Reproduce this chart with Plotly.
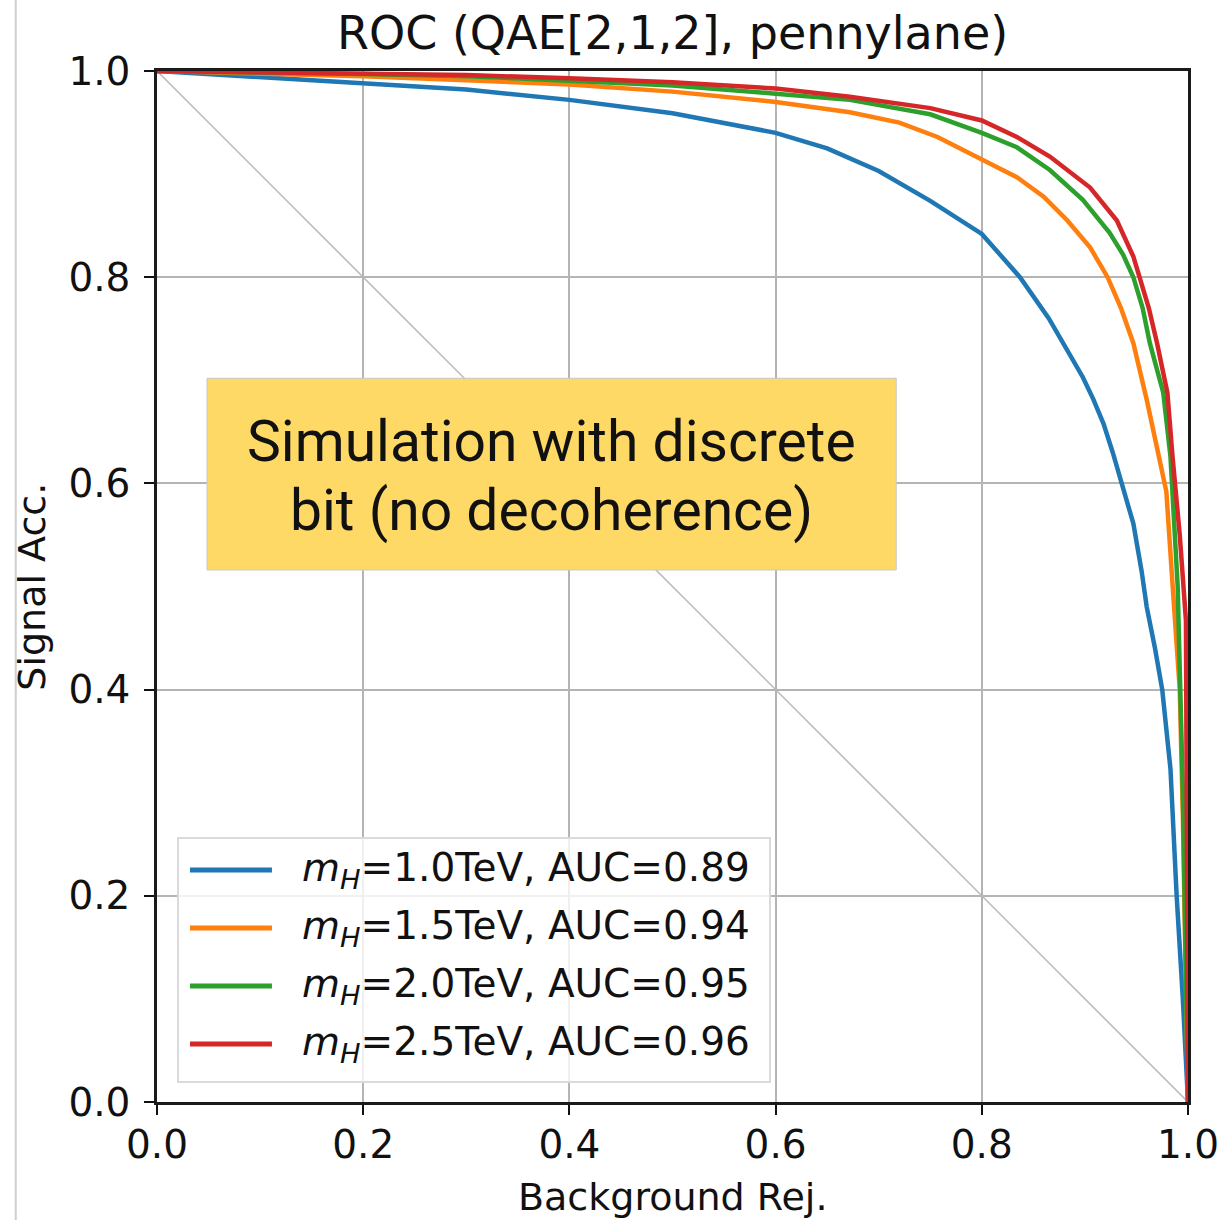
import plotly.graph_objects as go

# ROC curves: background rejection (x) vs signal acceptance (y)
bkg_rej_10 = [0.0, 0.05, 0.1, 0.2, 0.3, 0.4, 0.5, 0.6, 0.65, 0.7, 0.75, 0.8, 0.837, 0.865, 0.879,
              0.898, 0.908, 0.918, 0.927, 0.936, 0.947, 0.955, 0.960, 0.968, 0.975, 0.983, 0.989, 0.995, 1.0]
sig_acc_10 = [1.0, 0.997, 0.995, 0.989, 0.982, 0.972, 0.959, 0.940, 0.925, 0.903, 0.874, 0.842, 0.800, 0.760, 0.736,
              0.703, 0.682, 0.658, 0.630, 0.600, 0.561, 0.515, 0.480, 0.440, 0.400, 0.323, 0.200, 0.100, 0.0]

bkg_rej_15 = [0.0, 0.1, 0.2, 0.3, 0.4, 0.5, 0.6, 0.672, 0.72, 0.757, 0.8, 0.834, 0.860, 0.883, 0.905,
              0.922, 0.935, 0.947, 0.960, 0.970, 0.979, 0.985, 0.992, 0.995, 1.0]
sig_acc_15 = [1.0, 0.998, 0.995, 0.991, 0.987, 0.980, 0.970, 0.960, 0.950, 0.936, 0.914, 0.897, 0.878, 0.855, 0.829,
              0.800, 0.770, 0.736, 0.681, 0.635, 0.592, 0.502, 0.400, 0.278, 0.0]

bkg_rej_20 = [0.0, 0.1, 0.2, 0.3, 0.4, 0.5, 0.6, 0.672, 0.75, 0.8, 0.834, 0.866, 0.898, 0.924,
              0.937, 0.947, 0.956, 0.963, 0.976, 0.983, 0.990, 0.995, 1.0]
sig_acc_20 = [1.0, 0.999, 0.997, 0.995, 0.991, 0.986, 0.978, 0.972, 0.958, 0.940, 0.926, 0.904, 0.875, 0.843,
              0.822, 0.800, 0.770, 0.736, 0.688, 0.626, 0.500, 0.300, 0.0]

bkg_rej_25 = [0.0, 0.1, 0.2, 0.3, 0.4, 0.5, 0.6, 0.672, 0.75, 0.8, 0.834, 0.866, 0.905, 0.931,
              0.947, 0.953, 0.962, 0.970, 0.980, 0.985, 0.992, 0.998, 0.999, 1.0]
sig_acc_25 = [1.0, 0.999, 0.998, 0.996, 0.993, 0.989, 0.983, 0.975, 0.964, 0.952, 0.936, 0.917, 0.887, 0.855,
              0.820, 0.800, 0.770, 0.736, 0.688, 0.626, 0.550, 0.467, 0.300, 0.0]

mass_labels = ["1.0", "1.5", "2.0", "2.5"]
auc_values = ["0.89", "0.94", "0.95", "0.96"]
colors = ["#1f77b4", "#ff7f0e", "#2ca02c", "#d62728"]

tick_vals = [0.0, 0.2, 0.4, 0.6, 0.8, 1.0]
tick_text = ["0.0", "0.2", "0.4", "0.6", "0.8", "1.0"]

note_lines = ["Simulation with discrete", "bit (no decoherence)"]

series = [(bkg_rej_10, sig_acc_10), (bkg_rej_15, sig_acc_15),
          (bkg_rej_20, sig_acc_20), (bkg_rej_25, sig_acc_25)]

AX_FONT = "DejaVu Sans"
TXT = "#111111"

fig = go.Figure()

# random-guess diagonal
fig.add_trace(go.Scatter(x=[0, 1], y=[1, 0], mode="lines",
                         line=dict(color="#b8b8b8", width=1.5), showlegend=False))

for (xs, ys), m, auc, c in zip(series, mass_labels, auc_values, colors):
    fig.add_trace(go.Scatter(x=xs, y=ys, mode="lines", line=dict(color=c, width=4.5),
                             name=f"m_H={m}TeV, AUC={auc}", showlegend=False))

shapes = []
annotations = []

# annotation box
shapes.append(dict(type="rect", xref="x", yref="y", x0=0.0485, x1=0.717, y0=0.516, y1=0.702,
                   fillcolor="#FFD966", line=dict(color="#c8c8c8", width=1), layer="above"))
for yy, line_txt in zip([0.641, 0.574], note_lines):
    annotations.append(dict(xref="x", yref="y", x=0.3825, y=yy, xanchor="center", yanchor="middle",
                            text=line_txt, showarrow=False,
                            font=dict(family="Roboto", size=57, color=TXT)))

# hand-placed legend (paper coordinates of the plot area)
shapes.append(dict(type="rect", xref="paper", yref="paper", x0=0.0204, x1=0.5946, y0=0.0194, y1=0.256,
                   fillcolor="rgba(255,255,255,0.8)", line=dict(color="#dadada", width=2), layer="above"))
row_y = [0.225, 0.1688, 0.1125, 0.0563]
for yy, m, auc, c in zip(row_y, mass_labels, auc_values, colors):
    shapes.append(dict(type="line", xref="paper", yref="paper", x0=0.032, x1=0.1115, y0=yy, y1=yy,
                       line=dict(color=c, width=5), layer="above"))
    annotations.append(dict(xref="paper", yref="paper", x=0.1387, y=yy, xanchor="left", yanchor="middle",
                            text=f"<i>m</i><sub><i>H</i></sub>={m}TeV, AUC={auc}", showarrow=False,
                            font=dict(family=AX_FONT, size=39, color=TXT)))

# title and axis labels
annotations.append(dict(xref="paper", yref="paper", x=0.5, y=1.037, xanchor="center", yanchor="middle",
                        text="ROC (QAE[2,1,2], pennylane)", showarrow=False,
                        font=dict(family=AX_FONT, size=46, color=TXT)))
annotations.append(dict(xref="paper", yref="paper", x=0.5, y=-0.092, xanchor="center", yanchor="middle",
                        text="Background Rej.", showarrow=False,
                        font=dict(family=AX_FONT, size=38, color=TXT)))
annotations.append(dict(xref="paper", yref="paper", x=-0.122, y=0.5, xanchor="center", yanchor="middle",
                        text="Signal Acc.", showarrow=False, textangle=-90,
                        font=dict(family=AX_FONT, size=38, color=TXT)))

# thin page border on the left
shapes.append(dict(type="line", xref="paper", yref="paper", x0=-0.137, x1=-0.137, y0=-0.12, y1=1.07,
                   line=dict(color="#cfcfcf", width=2)))

axis_common = dict(range=[0, 1], tickvals=tick_vals, ticktext=tick_text,
                   showgrid=True, gridcolor="#b4b4b4", gridwidth=2,
                   showline=True, linecolor="#1a1a1a", linewidth=2.5, mirror=True,
                   ticks="outside", ticklen=10, tickwidth=2, tickcolor=TXT,
                   ticklabeloverflow="allow", automargin=False,
                   zeroline=False, tickfont=dict(family=AX_FONT, size=39, color=TXT))

fig.update_layout(
    width=1220, height=1220,
    margin=dict(l=157, r=32, t=71, b=118),
    paper_bgcolor="white", plot_bgcolor="white",
    xaxis=dict(**axis_common, ticklabelstandoff=-4),
    yaxis=dict(**axis_common, ticklabelstandoff=6),
    shapes=shapes, annotations=annotations,
    showlegend=False,
)

fig.write_html("out.html")
